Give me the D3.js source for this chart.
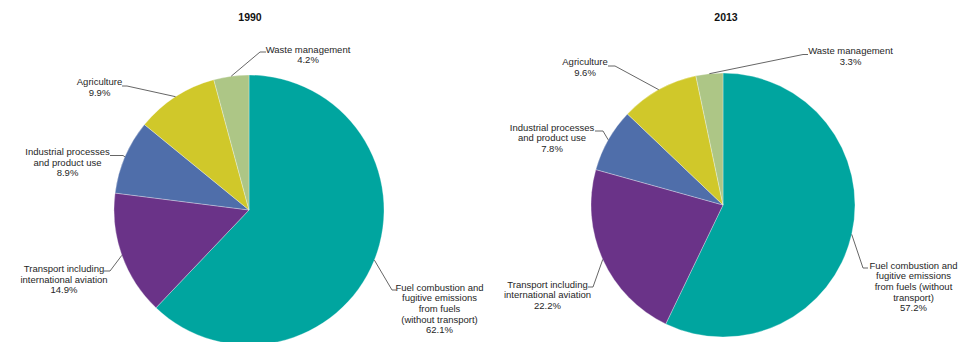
<!DOCTYPE html>
<html>
<head>
<meta charset="utf-8">
<script src="https://cdn.jsdelivr.net/npm/d3@7"></script>
<style>
  html, body { margin: 0; padding: 0; background: #fff; }
  svg { display: block; }
  text { font-family: "Liberation Sans", Arial, sans-serif; fill: #262626; }
</style>
</head>
<body>
<svg id="chart" width="970" height="342"></svg>
<script>
// Greenhouse gas emissions by source sector, share of total (%)
const years = ["1990", "2013"];
const categories = [
  "Fuel combustion and fugitive emissions from fuels (without transport)",
  "Transport including international aviation",
  "Industrial processes and product use",
  "Agriculture",
  "Waste management"
];
const shares1990 = [62.1, 14.9, 8.9, 9.9, 4.2];
const shares2013 = [57.2, 22.2, 7.8, 9.6, 3.3];
const colors = ["#00a59f", "#6a3388", "#4f6eaa", "#d0c82a", "#adc686"];

// Wrapped category labels for each pie
const wrap1990 = [
  ["Fuel combustion and", "fugitive emissions", "from fuels", "(without transport)"],
  ["Transport including", "international aviation"],
  ["Industrial processes", "and product use"],
  ["Agriculture"],
  ["Waste management"]
];
const wrap2013 = [
  ["Fuel combustion and", "fugitive emissions", "from fuels (without", "transport)"],
  ["Transport including", "international aviation"],
  ["Industrial processes", "and product use"],
  ["Agriculture"],
  ["Waste management"]
];

// Pie geometry and label placement (text centre x, first baseline y, elbow, line end)
const layouts = [
  {
    cx: 249, cy: 210, r: 135, titleX: 250,
    labels: [
      { tx: 439.5, ty: 290.5, knee: [392, 290], end: [396, 290] },
      { tx: 64,    ty: 272,   knee: [110, 271], end: [104, 271] },
      { tx: 67.5,  ty: 155,   knee: [123, 155.5], end: [110, 155.5] },
      { tx: 99.5,  ty: 85,    knee: [127, 86],  end: [122, 86] },
      { tx: 308,   ty: 52.5,  knee: [260, 52],  end: [266, 52] }
    ]
  },
  {
    cx: 723, cy: 205, r: 132, titleX: 726,
    labels: [
      { tx: 913.5, ty: 268.5, knee: [863, 268], end: [868, 268] },
      { tx: 547.5, ty: 287.5, knee: [593, 287], end: [588, 287] },
      { tx: 552,   ty: 130.5, knee: [603, 131], end: [595, 131] },
      { tx: 585,   ty: 65,    knee: [615, 66],  end: [608, 66] },
      { tx: 850.5, ty: 54,    knee: [803, 54.5], end: [808, 54.5] }
    ]
  }
];

const seriesList = [shares1990, shares2013];
const wraps = [wrap1990, wrap2013];
const fmt = d3.format(".1f");
const lineH = 10.7;

const svg = d3.select("#chart");
const pie = d3.pie().sort(null).value(d => d.value);

seriesList.forEach((values, k) => {
  const L = layouts[k];
  const data = values.map((v, i) => ({ value: v, i }));
  const arcs = pie(data);
  const arc = d3.arc().innerRadius(0).outerRadius(L.r);

  svg.append("text")
    .attr("x", L.titleX).attr("y", 20.5)
    .attr("text-anchor", "middle")
    .attr("font-size", "10.5px").attr("font-weight", "bold")
    .style("fill", "#111")
    .text(years[k]);

  const g = svg.append("g").attr("transform", `translate(${L.cx},${L.cy})`);
  g.selectAll("path")
    .data(arcs)
    .join("path")
    .attr("d", arc)
    .attr("fill", d => colors[d.data.i])
    .attr("stroke", "#ffffff")
    .attr("stroke-opacity", 0.5)
    .attr("stroke-width", 0.6);

  arcs.forEach(a => {
    const i = a.data.i;
    const lab = L.labels[i];
    const mid = (a.startAngle + a.endAngle) / 2;
    const px = L.cx + L.r * Math.sin(mid);
    const py = L.cy - L.r * Math.cos(mid);

    svg.append("polyline")
      .attr("points", [[px, py], lab.knee, lab.end].map(p => p.join(",")).join(" "))
      .attr("fill", "none")
      .attr("stroke", "#555")
      .attr("stroke-width", 0.9);

    const lines = wraps[k][i].concat([fmt(a.data.value) + "%"]);
    const t = svg.append("text")
      .attr("text-anchor", "middle")
      .attr("font-size", "9.5px");
    lines.forEach((s, j) => {
      t.append("tspan")
        .attr("x", lab.tx)
        .attr("y", lab.ty + j * lineH)
        .text(s);
    });
  });
});
</script>
</body>
</html>
